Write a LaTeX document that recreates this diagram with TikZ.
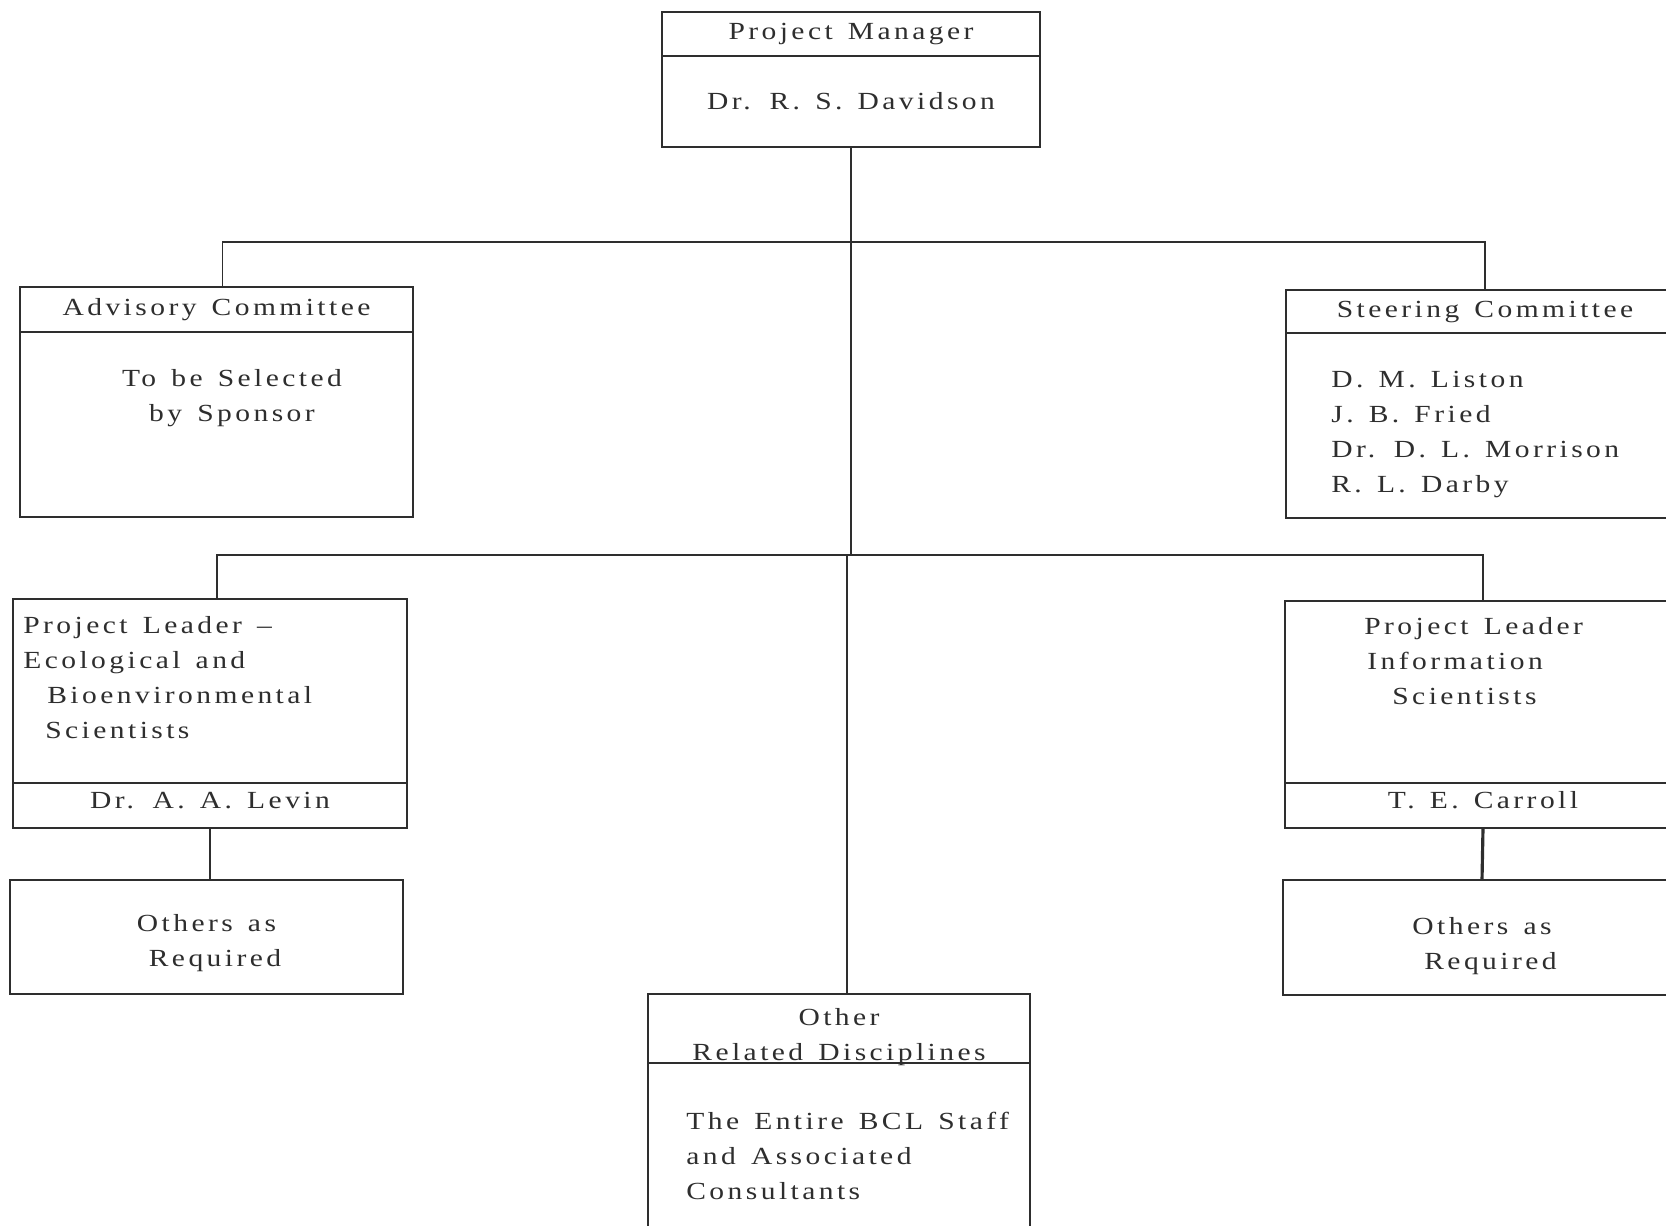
\documentclass[tikz,border=0pt]{standalone}
\usepackage{fontspec}
\setmainfont{Liberation Serif}[LetterSpace=14, FakeStretch=1.2, WordSpace=1.4]
\usetikzlibrary{positioning}
\definecolor{ink}{HTML}{2E2E2E}

\begin{document}
\begin{tikzpicture}[x=0.02cm, y=-0.02cm,
    box/.style={draw=ink, line width=1pt, inner sep=0pt, outer sep=0pt, text=ink},
    txt/.style={inner sep=0pt, text=ink, align=left},
    wire/.style={draw=ink, line width=1pt},
    font=\fontsize{14}{19.9}\selectfont]
    \clip (0,0) rectangle (1666,1225);
    \fill[white] (0,0) rectangle (1666,1225);

    \node[box, minimum width=7.56cm, minimum height=0.88cm] (pmHead) at (851,34) {Project Manager};
    \node[box, minimum width=7.56cm, minimum height=1.82cm, below=0pt of pmHead] (pmBody) {Dr. R. S. Davidson};

    \node[box, minimum width=7.86cm, minimum height=0.9cm] (advHead) at (216.5,309.5) {Advisory Committee};
    \node[box, minimum width=7.86cm, minimum height=3.7cm, below=0pt of advHead] (advBody) {};
    \node[txt, align=center, anchor=north] (advText) at (232,369) {To be Selected\\by Sponsor};

    \node[box, minimum width=7.96cm, minimum height=0.86cm] (steHead) at (1485,311.5) {Steering Committee};
    \node[box, minimum width=7.96cm, minimum height=3.7cm, below=0pt of steHead] (steBody) {};
    \node[txt, anchor=north west] (steText) at (1331,371) {D. M. Liston\\J. B. Fried\\Dr. D. L. Morrison\\R. L. Darby};

    \node[box, minimum width=7.88cm, minimum height=3.68cm] (ecoHead) at (210,691) {};
    \node[box, minimum width=7.88cm, minimum height=0.9cm, below=0pt of ecoHead] (ecoName) {};
    \node[txt] (ecoNameText) at ([yshift=0.1cm]ecoName.center) {Dr. A. A. Levin};
    \node[txt, anchor=north west] (ecoText) at (23,616) {Project Leader –\\Ecological and\\\hspace{0.48cm}Bioenvironmental\\\hspace{0.44cm}Scientists};

    \node[box, minimum width=7.92cm, minimum height=3.64cm] (infHead) at (1483,692) {};
    \node[box, minimum width=7.92cm, minimum height=0.9cm, below=0pt of infHead] (infName) {};
    \node[txt] (infNameText) at ([yshift=0.1cm]infName.center) {T. E. Carroll};
    \node[txt, anchor=north west] (infText) at (1364,617) {Project Leader\\\hspace{0.06cm}Information\\\hspace{0.56cm}Scientists};

    \node[box, minimum width=7.86cm, minimum height=2.28cm] (othLeft) at (206.5,937) {};
    \node[txt, align=center] (othLeftText) at ([yshift=-0.13cm]othLeft.center) {Others as\hspace{0.34cm}\\\hspace{0.34cm}Required};
    \node[box, minimum width=7.96cm, minimum height=2.3cm] (othRight) at (1482,937.5) {};
    \node[txt, align=center] (othRightText) at ([yshift=-0.17cm]othRight.center) {Others as\hspace{0.34cm}\\\hspace{0.34cm}Required};

    \node[box, minimum width=7.64cm, minimum height=1.38cm] (ordHead) at (839,1028.5) {};
    \node[txt, align=center] (ordTitle) at ([yshift=-0.18cm]ordHead.center) {Other\\Related Disciplines};
    \node[box, minimum width=7.64cm, minimum height=4.8cm, below=0pt of ordHead] (ordBody) {};
    \node[txt, anchor=north west] (ordText) at (686,1112) {The Entire BCL Staff\\and Associated\\Consultants};

    \coordinate (bar1) at (851,242);
    \coordinate (bar2) at (851,555);
    \draw[wire] ([xshift=0.12cm]advHead.north) |- (bar1) -| (steHead.north);
    \draw[wire] (pmBody.south) -- (bar2) -- ([xshift=-0.08cm]bar2) -- ([xshift=-0.08cm]bar2 |- ordHead.north);
    \draw[wire] ([xshift=0.14cm]ecoHead.north) |- (bar2) -| (infHead.north);
    \draw[wire] (ecoName.south) -- (ecoName.south |- othLeft.north);
    \draw[wire, line width=1.8pt] (infName.south) -- (othRight.north);
\end{tikzpicture}
\end{document}
